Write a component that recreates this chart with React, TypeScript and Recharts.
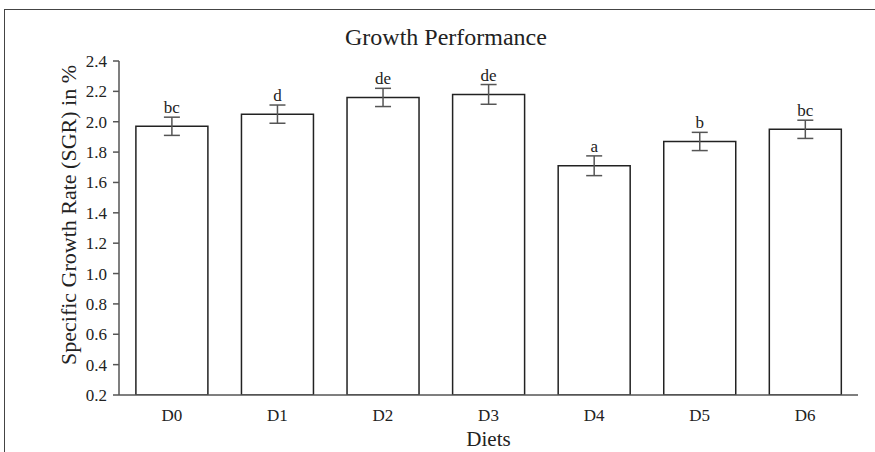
import React from 'react';
import { Bar, BarChart, ErrorBar, LabelList, XAxis, YAxis } from 'recharts';

const diets = ['D0', 'D1', 'D2', 'D3', 'D4', 'D5', 'D6'];
const sgr = [1.97, 2.05, 2.16, 2.18, 1.71, 1.87, 1.95];
const sgrErr = [0.06, 0.06, 0.06, 0.065, 0.065, 0.06, 0.06];
const letters = ['bc', 'd', 'de', 'de', 'a', 'b', 'bc'];
const yTicks = [0.2, 0.4, 0.6, 0.8, 1.0, 1.2, 1.4, 1.6, 1.8, 2.0, 2.2, 2.4];

const data = diets.map((d, i) => ({ diet: d, sgr: sgr[i], err: sgrErr[i], letter: letters[i] }));

const FONT = '"Liberation Serif", "Times New Roman", serif';
const INK = '#222';
const AXIS = '#555';
const Y_MIN = 0.2;

function LetterLabel(props: any) {
  const { x, y, width, height, value, index } = props;
  const perUnit = height / (sgr[index] - Y_MIN);
  const top = y - sgrErr[index] * perUnit;
  return (
    <text x={x + width / 2} y={top - 4} textAnchor="middle" fontFamily={FONT} fontSize={17} fill={INK}>
      {value}
    </text>
  );
}

function YLabel(props: any) {
  const cx = 68;
  const cy = 215;
  return (
    <text
      x={cx}
      y={cy}
      transform={`rotate(-90 ${cx} ${cy})`}
      textAnchor="middle"
      dominantBaseline="central"
      fontFamily={FONT}
      fontSize={22}
      fill={INK}
    >
      Specific Growth Rate (SGR) in %
    </text>
  );
}

export default function App() {
  return (
    <div style={{ position: 'absolute', left: 0, top: 0, width: 875, height: 452, background: '#fff', overflow: 'hidden' }}>
      <div
        style={{
          position: 'absolute',
          left: 4,
          top: 9,
          width: 880,
          height: 460,
          borderTop: '1.5px solid #444',
          borderLeft: '1.5px solid #444',
        }}
      />
      <div
        style={{
          position: 'absolute',
          left: 345,
          width: 200,
          top: 24,
          textAlign: 'center',
          fontFamily: FONT,
          fontSize: 24,
          color: INK,
          lineHeight: '26px',
          whiteSpace: 'nowrap',
        }}
      >
        Growth Performance
      </div>
      <div style={{ position: 'absolute', left: 0, top: 0 }}>
        <BarChart
          width={875}
          height={452}
          data={data}
          margin={{ top: 61, right: 17, bottom: 0, left: 0 }}
          barCategoryGap="16%"
        >
          <XAxis
            dataKey="diet"
            height={57}
            tickLine={false}
            tickSize={0}
            tickMargin={14}
            axisLine={{ stroke: AXIS, strokeWidth: 1.5 }}
            tick={{ fontFamily: FONT, fontSize: 17, fill: INK }}
            label={{ value: 'Diets', position: 'insideBottom', offset: 6, fontFamily: FONT, fontSize: 21, fill: INK }}
          />
          <YAxis
            width={119}
            domain={[0.2, 2.4]}
            ticks={yTicks}
            allowDataOverflow
            tickFormatter={(v: number) => v.toFixed(1)}
            tickSize={6}
            tickMargin={6}
            tickLine={{ stroke: AXIS, strokeWidth: 1.5 }}
            axisLine={{ stroke: AXIS, strokeWidth: 1.5 }}
            tick={{ fontFamily: FONT, fontSize: 17, fill: INK }}
            label={<YLabel />}
          />
          <Bar dataKey="sgr" fill="#fff" stroke={INK} strokeWidth={1.5} isAnimationActive={false}>
            <ErrorBar dataKey="err" width={8} stroke={AXIS} strokeWidth={1.5} />
            <LabelList dataKey="letter" content={<LetterLabel />} />
          </Bar>
        </BarChart>
      </div>
    </div>
  );
}
